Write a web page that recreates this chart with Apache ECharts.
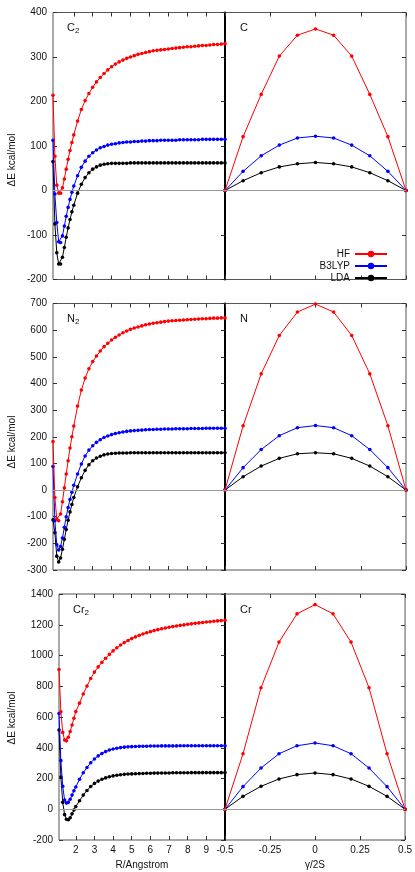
<!DOCTYPE html>
<html><head><meta charset="utf-8">
<script src="https://cdn.jsdelivr.net/npm/echarts@6/dist/echarts.min.js"></script>
<style>html,body{margin:0;padding:0;background:#fff}#c{width:415px;height:872px}</style>
</head><body><div id="c"></div>
<script>
// ---------- data ----------
const R_CN = [0.9,1.0,1.1,1.2,1.3,1.4,1.5,1.6,1.7,1.8,1.9,2.0,
  2.2,2.4,2.6,2.8,3.0,3.2,3.4,3.6,3.8,4.0,4.2,4.4,4.6,4.8,5.0,5.2,5.4,5.6,5.8,6.0,
  6.2,6.4,6.6,6.8,7.0,7.2,7.4,7.6,7.8,8.0,8.2,8.4,8.6,8.8,9.0,9.2,9.4,9.6,9.8,10.0];
const R_CR = [1.1,1.2,1.3,1.4,1.5,1.6,1.7,1.8,1.9,2.0,
  2.2,2.4,2.6,2.8,3.0,3.2,3.4,3.6,3.8,4.0,4.2,4.4,4.6,4.8,5.0,5.2,5.4,5.6,5.8,6.0,
  6.2,6.4,6.6,6.8,7.0,7.2,7.4,7.6,7.8,8.0,8.2,8.4,8.6,8.8,9.0,9.2,9.4,9.6,9.8,10.0];
const GAMMA = [-0.5,-0.4,-0.3,-0.2,-0.1,0,0.1,0.2,0.3,0.4,0.5];

const C2_HF  = [214,77,12,-6,-6,6,26,48,70,90,108,125,156,182,202,218,232,244,254,263,271,278,
  284,289,293,297,300,303,306,308,310,312,314,315,316,317,318,319,320,321,322,323,
  323,324,325,326,326,327,328,328,329,330];
const C2_B3  = [113,-8,-72,-115,-117,-102,-80,-58,-38,-20,-4,10,33,52,66,77,85,91,96,99,102,104,
  105,107,108,109,109,110,110,111,111,112,112,112,113,113,113,113,113,114,114,114,
  114,114,114,115,115,115,115,115,115,115];
const C2_LDA = [65,-75,-140,-165,-165,-150,-128,-105,-84,-65,-48,-33,-6,14,29,40,48,53,57,59,60,61,
  61,61,61,61,62,62,62,62,62,62,62,62,62,62,62,62,62,62,62,62,
  62,62,62,62,62,62,62,62,62,62];

const N2_HF  = [182,-28,-108,-115,-90,-44,8,60,110,158,200,240,315,375,420,455,482,503,522,538,551,563,
  573,582,590,597,603,608,612,616,620,623,626,628,630,632,634,635,636,637,638,639,
  640,641,642,643,643,644,645,645,646,646];
const N2_B3  = [88,-115,-205,-225,-212,-180,-140,-100,-66,-35,-8,18,60,98,128,150,166,179,189,197,203,208,
  212,215,218,220,222,223,224,225,226,227,227,228,228,229,229,229,230,230,230,230,
  231,231,231,231,232,232,232,232,232,232];
const N2_LDA = [-112,-160,-248,-270,-255,-222,-185,-148,-113,-82,-54,-28,12,46,74,95,110,120,127,132,135,137,
  138,139,139,139,140,140,140,140,140,140,140,140,140,140,140,140,140,140,140,140,
  140,140,140,140,140,140,140,140,140,140];

const CR2_HF  = [909,634,500,450,445,468,505,548,592,635,690,750,801,850,892,926,955,982,1007,1030,
  1050,1068,1084,1098,1110,1121,1131,1140,1148,1155,1162,1168,1174,1179,1184,1188,1192,1196,1199,1203,
  1206,1209,1212,1215,1218,1220,1223,1225,1227,1229];
const CR2_B3  = [623,316,150,60,40,45,65,92,120,145,195,237,272,302,327,347,362,375,385,392,
  397,401,404,406,407,408,409,410,410,411,411,411,412,412,412,412,412,413,413,413,
  413,413,413,413,413,413,413,413,413,413];
const CR2_LDA = [515,210,45,-35,-65,-68,-55,-30,-5,18,55,92,122,148,168,183,195,204,211,217,
  221,224,227,229,230,231,232,233,234,234,235,235,236,236,236,237,237,237,237,237,
  238,238,238,238,238,238,238,238,238,238];

const C_HF   = [0,121,216,302,349,363,349,302,216,121,0];
const C_B3   = [0,43,78,102,118,122,118,102,78,43,0];
const C_LDA  = [0,22,40,53,60,63,60,53,40,22,0];
const N_HF   = [0,241,436,580,668,698,668,580,436,241,0];
const N_B3   = [0,84,152,204,234,242,234,204,152,84,0];
const N_LDA  = [0,50,90,119,136,140,136,119,90,50,0];
const CR_HF  = [0,361,790,1087,1271,1331,1271,1087,790,361,0];
const CR_B3  = [0,147,268,361,413,431,413,361,268,147,0];
const CR_LDA = [0,84,149,197,225,236,225,197,149,84,0];

const R_TICKS = [2,3,4,5,6,7,8,9];
const Y_RANGES = [[-200,400,100],[-300,700,100],[-200,1400,200]];
const X_MINS = [0.9,0.9,1.1];
const METHODS = ['HF','B3LYP','LDA'];
const COLORS = ['#ff0000','#0000ff','#000000'];
const MOL_LABELS = [['C','2'],['N','2'],['Cr','2']];
const ATOM_LABELS = ['C','N','Cr'];

const PANELS = [
  {R:R_CN, left:[C2_HF,C2_B3,C2_LDA], right:[C_HF,C_B3,C_LDA]},
  {R:R_CN, left:[N2_HF,N2_B3,N2_LDA], right:[N_HF,N_B3,N_LDA]},
  {R:R_CR, left:[CR2_HF,CR2_B3,CR2_LDA], right:[CR_HF,CR_B3,CR_LDA]}
];

// ---------- layout ----------
const FONT = "'Liberation Sans', Arial, Helvetica, sans-serif";
const TOPS = [12.5, 303.5, 594];
const HEIGHTS = [267, 266.5, 246];
const LEFTS = [53, 53, 59];
const DIV = 225, RIGHT_W = 181;

const grid = [], xAxis = [], yAxis = [], series = [], graphic = [];
const tick = {show:true, inside:true, length:4, lineStyle:{color:'#333', width:1}};
const lbl = {fontSize:10, color:'#111', fontFamily:FONT};

for (let p = 0; p < 3; p++) {
  const isBottom = p === 2;
  const gL = grid.length, gR = gL + 1;
  grid.push({left:LEFTS[p], top:TOPS[p], width:DIV - LEFTS[p], height:HEIGHTS[p],
    show:true, borderColor:'#555', borderWidth:1});
  grid.push({left:DIV, top:TOPS[p], width:RIGHT_W, height:HEIGHTS[p],
    show:true, borderColor:'#555', borderWidth:1});
  const [ymin, ymax, yint] = Y_RANGES[p];

  const xL = xAxis.length;
  xAxis.push({gridIndex:gL, type:'value', min:X_MINS[p], max:10,
    axisLine:{show:false, onZero:false}, splitLine:{show:false},
    axisTick:Object.assign({customValues:R_TICKS}, tick),
    axisLabel:Object.assign({show:isBottom, customValues:R_TICKS, margin:5}, lbl),
    name:isBottom ? 'R/Angstrom' : '', nameLocation:'middle', nameGap:20,
    nameTextStyle:Object.assign({}, lbl)});
  xAxis.push({gridIndex:gL, type:'value', position:'top', min:X_MINS[p], max:10,
    axisLine:{show:false, onZero:false}, splitLine:{show:false},
    axisTick:Object.assign({customValues:R_TICKS}, tick), axisLabel:{show:false}});
  const xR = xAxis.length;
  xAxis.push({gridIndex:gR, type:'value', min:-0.5, max:0.5, interval:0.25,
    axisLine:{show:false, onZero:false}, splitLine:{show:false}, axisTick:tick,
    axisLabel:Object.assign({show:isBottom, margin:5}, lbl),
    name:isBottom ? 'γ/2S' : '', nameLocation:'middle', nameGap:20,
    nameTextStyle:Object.assign({}, lbl)});
  xAxis.push({gridIndex:gR, type:'value', position:'top', min:-0.5, max:0.5, interval:0.25,
    axisLine:{show:false, onZero:false}, splitLine:{show:false}, axisTick:tick, axisLabel:{show:false}});

  const yL = yAxis.length;
  yAxis.push({gridIndex:gL, type:'value', min:ymin, max:ymax, interval:yint,
    axisLine:{show:false, onZero:false}, splitLine:{show:false}, axisTick:tick,
    axisLabel:Object.assign({margin:6, formatter:(v)=>String(v)}, lbl)});
  yAxis.push({gridIndex:gL, type:'value', position:'right', min:ymin, max:ymax, interval:yint,
    axisLine:{show:false, onZero:false}, splitLine:{show:false}, axisTick:tick, axisLabel:{show:false}});
  const yR = yAxis.length;
  yAxis.push({gridIndex:gR, type:'value', position:'left', min:ymin, max:ymax, interval:yint,
    axisLine:{show:true, onZero:false, lineStyle:{color:'#000', width:2}}, splitLine:{show:false},
    axisTick:{show:false}, axisLabel:{show:false}});
  yAxis.push({gridIndex:gR, type:'value', position:'right', min:ymin, max:ymax, interval:yint,
    axisLine:{show:false, onZero:false}, splitLine:{show:false}, axisTick:tick, axisLabel:{show:false}});

  const P = PANELS[p];
  for (let m = 0; m < 3; m++) {
    const zero = m === 0 ? {silent:true, symbol:['none','none'], label:{show:false},
      lineStyle:{color:'#9a9a9a', type:'solid', width:1}, data:[{yAxis:0}]} : undefined;
    series.push({type:'line', name:METHODS[m], xAxisIndex:xL, yAxisIndex:yL,
      data:P.R.map((r,i)=>[r, P.left[m][i]]),
      symbol:'circle', symbolSize:3.6, color:COLORS[m],
      lineStyle:{width:1, color:COLORS[m]}, itemStyle:{color:COLORS[m]},
      z: 3 - m, markLine:zero, animation:false});
    series.push({type:'line', name:METHODS[m], xAxisIndex:xR, yAxisIndex:yR,
      data:GAMMA.map((g,i)=>[g, P.right[m][i]]),
      symbol:'circle', symbolSize:3.6, color:COLORS[m],
      lineStyle:{width:1, color:COLORS[m]}, itemStyle:{color:COLORS[m]},
      z: 3 - m, markLine:zero, animation:false});
  }

  // panel labels
  graphic.push({type:'text', left:LEFTS[p] + 14, top:TOPS[p] + 10,
    style:{text:'{a|' + MOL_LABELS[p][0] + '}{b|' + MOL_LABELS[p][1] + '}',
      rich:{a:{fontSize:11, fontFamily:FONT, fill:'#111'},
            b:{fontSize:8, fontFamily:FONT, fill:'#111', padding:[6,0,0,0]}}}});
  graphic.push({type:'text', left:DIV + 15, top:TOPS[p] + 10,
    style:{text:ATOM_LABELS[p], fontSize:11, fontFamily:FONT, fill:'#111'}});
}

const YNAME_Y = [160, 442, 718];
for (let p = 0; p < 3; p++) {
  graphic.push({type:'text', x:12, y:YNAME_Y[p], rotation:Math.PI/2,
    style:{text:'ΔE kcal/mol', fontSize:10, fontFamily:FONT, fill:'#111',
      align:'center', verticalAlign:'middle'}});
}

const chart = echarts.init(document.getElementById('c'), null, {renderer:'canvas'});
chart.setOption({
  backgroundColor:'#fff',
  animation:false,
  textStyle:{fontFamily:FONT},
  grid, xAxis, yAxis, series, graphic,
  legend:{data:METHODS, orient:'vertical', align:'right', right:22, top:244,
    itemWidth:32, itemHeight:8, itemGap:2,
    textStyle:{fontSize:10, fontFamily:FONT, color:'#111', padding:[0,0,0,0]}}
});
</script></body></html>
